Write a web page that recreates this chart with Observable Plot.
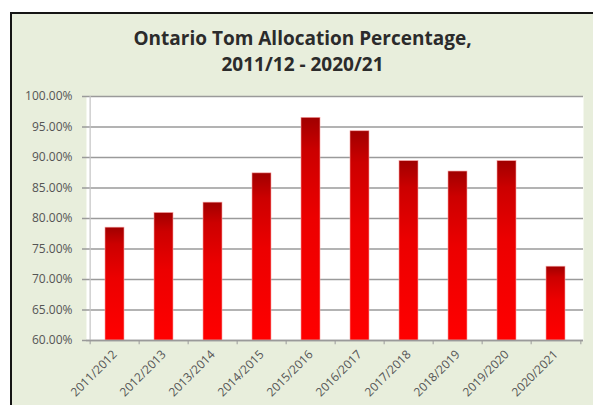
<!DOCTYPE html>
<html>
<head>
<meta charset="utf-8">
<script src="https://cdn.jsdelivr.net/npm/d3@7"></script>
<script src="https://cdn.jsdelivr.net/npm/@observablehq/plot@0.6"></script>
<style>
  html, body { margin: 0; padding: 0; background: #ffffff; overflow: hidden; width: 100%; height: 100%; scrollbar-width: none; }
  ::-webkit-scrollbar { display: none; width: 0; height: 0; }
  #box { position: fixed; left: 10px; top: 12px; width: 583px; height: 393px; box-sizing: border-box;
         background: #E8EEDC; border-top: 2px solid #151515; border-left: 2px solid #151515; overflow: hidden; }
  #title { position: absolute; left: 0px; top: 11px; width: 581px; text-align: center; white-space: nowrap;
           font-family: "Open Sans", sans-serif; font-weight: 700; font-size: 19px; line-height: 26px; color: #2b2b2b; }
  #chart { position: absolute; left: 0; top: 0; }
</style>
</head>
<body>
<div id="box">
  <div id="title">Ontario Tom Allocation Percentage,<br>2011/12 - 2020/21</div>
  <div id="chart"></div>
</div>
<script>
const seasons = ["2011/2012","2012/2013","2013/2014","2014/2015","2015/2016","2016/2017","2017/2018","2018/2019","2019/2020","2020/2021"];
const percentages = [78.5, 80.9, 82.6, 87.4, 96.5, 94.3, 89.4, 87.7, 89.4, 72.1];
const yTicks = [60, 65, 70, 75, 80, 85, 90, 95, 100];

const data = seasons.map((s, i) => ({season: s, pct: percentages[i]}));
const step = 49.7;

const chart = Plot.plot({
  width: 581,
  height: 391,
  marginLeft: 74,
  marginRight: 10,
  marginTop: 82,
  marginBottom: 65,
  style: {background: "transparent", fontFamily: "'Open Sans', sans-serif", fontSize: "12px", color: "#555"},
  x: {domain: seasons, paddingInner: 0.62, paddingOuter: 0.31, label: null},
  y: {domain: [60, 100], label: null},
  marks: [
    Plot.frame({fill: "white", stroke: null}),
    Plot.ruleY(yTicks, {stroke: "#9a9a9a", strokeWidth: 1.4, insetLeft: -4}),
    Plot.axisY({ticks: yTicks, tickSize: 0, tickPadding: 14, tickFormat: d => d.toFixed(2) + "%", fill: "#555", fontSize: 12}),
    Plot.ruleX([seasons[0]], {dx: -step / 2, stroke: "#c4c4c4", strokeWidth: 1.2}),
    Plot.ruleX(seasons, {x: d => d, y1: 60, y2: 59.3, dx: -step / 2, stroke: "#9a9a9a"}),
    Plot.ruleX([seasons[seasons.length - 1]], {y1: 60, y2: 59.3, dx: step / 2, stroke: "#9a9a9a"}),
    Plot.barY(data, {x: "season", y1: 60, y2: "pct", fill: "url(#barGrad)", stroke: "#f7a0a0", strokeWidth: 0.6}),
    Plot.ruleY([60], {stroke: "#9a9a9a", strokeWidth: 1.4}),
    Plot.axisX({tickSize: 0, tickRotate: -45, tickPadding: 12, dx: 0, fill: "#555", fontSize: 12})
  ]
});

const svg = d3.select(chart);
const defs = svg.insert("defs", ":first-child");
const g = defs.append("linearGradient").attr("id", "barGrad").attr("x1", 0).attr("y1", 0).attr("x2", 0).attr("y2", 1);
g.append("stop").attr("offset", "0").attr("stop-color", "#a00000");
g.append("stop").attr("offset", "0.15").attr("stop-color", "#cc0000");
g.append("stop").attr("offset", "0.45").attr("stop-color", "#ec0000");
g.append("stop").attr("offset", "1").attr("stop-color", "#ff0000");

document.getElementById("chart").appendChild(chart);
</script>
</body>
</html>
